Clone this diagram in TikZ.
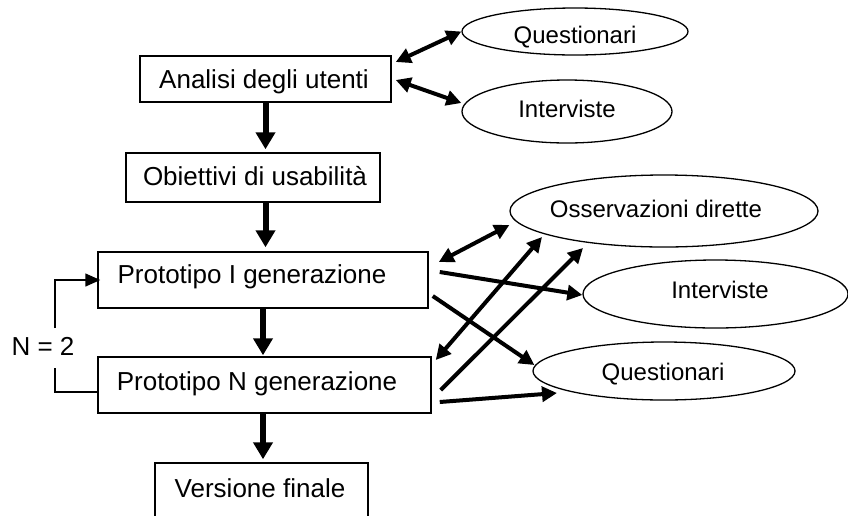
\documentclass[tikz,border=0pt]{standalone}
\usepackage{fontspec}
\setmainfont{Liberation Sans}
\usetikzlibrary{arrows.meta,shapes.geometric,calc}

\begin{document}
\begin{tikzpicture}[x=1pt,y=-1pt,
  stepbox/.style={draw,line width=1.5pt,rectangle,inner sep=0pt},
  oval/.style={draw,line width=1.3pt,ellipse,inner sep=0pt},
  boxtext/.style={anchor=base,inner sep=0pt,font=\fontsize{26}{30}\selectfont},
  ovaltext/.style={anchor=base,inner sep=0pt,font=\fontsize{24}{28}\selectfont},
  flow/.style={line width=6pt,-{Triangle[length=17pt,width=19pt]}},
  link/.style={line width=4pt,-{Triangle[length=15pt,width=15pt]}},
  biglink/.style={line width=4pt,{Triangle[length=15pt,width=15pt]}-{Triangle[length=15pt,width=15pt]}},
  loopline/.style={line width=1.5pt}]

\useasboundingbox (0,0) rectangle (848,515);

% process boxes
\node[stepbox,minimum width=251pt,minimum height=46pt] (ana) at (265.5,79) {};
\node[stepbox,minimum width=254pt,minimum height=49pt] (obi) at (253,177.5) {};
\node[stepbox,minimum width=330pt,minimum height=56pt] (p1) at (263,280) {};
\node[stepbox,minimum width=333pt,minimum height=56pt] (pN) at (264.5,385) {};
\node[stepbox,minimum width=213pt,minimum height=62pt] (ver) at (261.5,494) {};

\node[boxtext] (anaT) at (264,88) {Analisi degli utenti};
\node[boxtext] (obiT) at (255,185) {Obiettivi di usabilità};
\node[boxtext] (p1T) at (252,283) {Prototipo I generazione};
\node[boxtext] (pNT) at (257,390) {Prototipo N generazione};
\node[boxtext] (verT) at (260,497) {Versione finale};

% methods
\node[oval,minimum width=226pt,minimum height=47pt] (q1) at (575,31.5) {};
\node[oval,minimum width=210pt,minimum height=63pt] (i1) at (567,111.5) {};
\node[oval,minimum width=308pt,minimum height=72pt] (oss) at (664,211) {};
\node[oval,minimum width=265pt,minimum height=68pt] (i2) at (715.5,294) {};
\node[oval,minimum width=262pt,minimum height=58pt] (q2) at (664,371) {};

\node[ovaltext] (q1T) at (575,43) {Questionari};
\node[ovaltext] (i1T) at (567,117) {Interviste};
\node[ovaltext] (ossT) at (656,217) {Osservazioni dirette};
\node[ovaltext] (i2T) at (720,298) {Interviste};
\node[ovaltext] (q2T) at (663,380) {Questionari};

% main flow
\draw[flow] (ana.south) -- ($(ana.south |- obi.north)+(0,-3)$);
\draw[flow] (obi.south -| ana.south) -- ($(p1.north -| ana.south)+(0,-4)$);
\draw[flow] (p1.south) -- ($(pN.north -| p1.south)+(0,-1)$);
\draw[flow] (pN.south -| p1.south) -- ($(ver.north -| p1.south)+(0,-3)$);

% iteration loop
\node[boxtext] (nlab) at (43,355) {N = 2};
\coordinate (lb) at (55,368);
\coordinate (lt) at (55,328);
\draw[loopline] ($(pN.west)+(0,7)$) -| (lb);
\draw[loopline,-{Triangle[length=15pt,width=13pt]}] (lt) |- ($(p1.west)+(3,0)$);

% user analysis methods
\draw[biglink] ($(ana.east)+(4,-17)$) -- (q1.west);
\draw[biglink] ($(ana.east)+(4,1)$) -- ($(i1.west)+(0,-8.5)$);

% prototype evaluation
\draw[biglink] ($(p1.east)+(10,-18)$) -- ($(oss.west)+(0,14)$);
\draw[link] ($(p1.east)+(11,-8)$) -- ($(i2.west)+(0,1)$);
\draw[link] ($(p1.east)+(4,16)$) -- ($(q2.west)+(2,-6)$);
\draw[biglink] ($(pN.east)+(4,-25)$) -- ($(oss.center)+(-122,26)$);
\draw[link] ($(pN.east)+(9,5)$) -- ($(oss.center)+(-81,37)$);
\draw[link] ($(pN.east)+(8,17)$) -- ($(q2.center)+(-107,22)$);

\end{tikzpicture}
\end{document}
